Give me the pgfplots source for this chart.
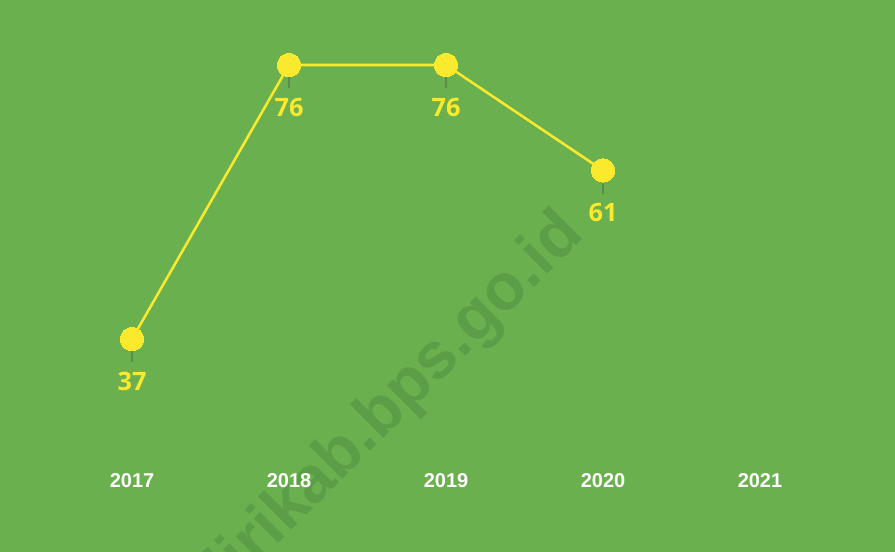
\documentclass[border=0pt]{standalone}
\usepackage{pgfplots}
\pgfplotsset{compat=1.18}
\usepackage{fontspec}
\setmainfont{Liberation Sans}
\newfontfamily\labfont{Open Sans}[BoldFont={* Bold}]
\definecolor{bg}{RGB}{106,176,78}
\definecolor{wm}{RGB}{92,158,72}
\definecolor{yel}{RGB}{250,233,45}
\definecolor{lead}{RGB}{90,140,75}
\begin{document}
\begin{tikzpicture}
\clip (0,0) rectangle (671.25pt,414pt);
\fill[bg] (0,0) rectangle (671.25pt,414pt);
\node[rotate=45, anchor=base east, text=wm, font=\bfseries\fontsize{49}{49}\selectfont, inner sep=0pt]
  at (0.6547*671.25pt, 0.5725*414pt) {kedirikab.bps.go.id};
\begin{axis}[
  at={(0,0)}, anchor=south west,
  width=671.25pt, height=414pt, scale only axis,
  xmin=2016.159, xmax=2021.860, ymin=6.69, ymax=85.25,
  axis line style={draw=none}, tick style={draw=none},
  ytick=\empty,
  xtick={2017,2018,2019,2020,2021},
  xticklabels={2017,2018,2019,2020,2021},
  xticklabel style={anchor=base, yshift=48pt, text=white, font=\bfseries\fontsize{15}{15}\selectfont},
  clip=false,
]
\addplot[draw=none, mark=none, forget plot,
  error bars/.cd, y dir=minus, y fixed=3.3,
  error bar style={draw=lead, line width=1pt}, error mark=none]
  coordinates {(2017,37) (2018,76) (2019,76) (2020,61)};
\addplot[yel, line width=1.9pt, mark=*, mark size=8.8pt,
  mark options={fill=yel, draw=yel, line width=0pt},
  nodes near coords,
  every node near coord/.append style={anchor=center, yshift=-31.5pt, text=yel,
    font=\labfont\bfseries\fontsize{19}{19}\selectfont,
    /pgf/number format/assume math mode=true},
  ]
  coordinates {(2017,37) (2018,76) (2019,76) (2020,61)};
\end{axis}
\end{tikzpicture}
\end{document}
